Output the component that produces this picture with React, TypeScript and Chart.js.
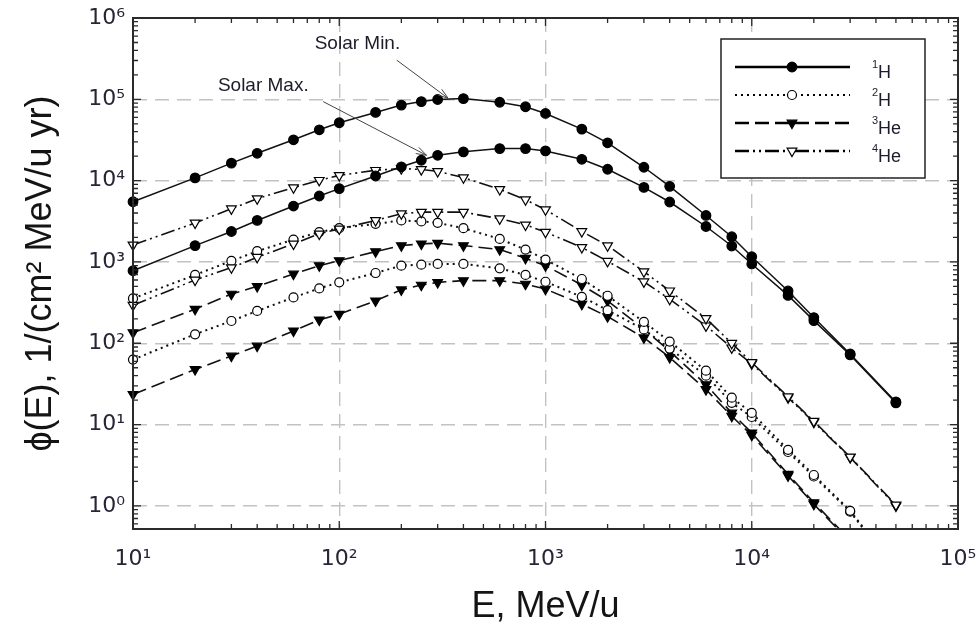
import React, { useEffect, useRef } from 'react';
import { Chart, registerables } from 'chart.js';

Chart.register(...registerables);

// ---- data ----
const energies = [10, 20, 30, 40, 60, 80, 100, 150, 200, 250, 300, 400, 600, 800, 1000, 1500, 2000, 3000, 4000, 6000, 8000, 10000, 15000, 20000, 30000, 50000];

const h1SolarMin = [5500, 10800, 16400, 21700, 31800, 42200, 51500, 69000, 85000, 93700, 99500, 102000, 92000, 81000, 67000, 43000, 29200, 14600, 8500, 3730, 2040, 1160, 440, 207, 74, 19];
const h1SolarMax = [780, 1590, 2370, 3240, 4870, 6470, 7970, 11400, 14800, 17800, 20500, 22600, 24800, 24800, 23200, 18300, 13800, 8250, 5460, 2730, 1570, 945, 388, 190, 72, 18.5];
const h2SolarMin = [356, 692, 1030, 1355, 1885, 2330, 2600, 2940, 3240, 3150, 3030, 2600, 1920, 1420, 1070, 617, 384, 183, 105, 46, 21.4, 13.9, 4.9, 2.4, 0.87, 0.17];
const h2SolarMax = [63, 129, 188, 250, 366, 473, 561, 731, 901, 927, 945, 945, 836, 692, 571, 373, 255, 148, 86, 40, 18.5, 12.4, 4.6, 2.3, 0.85, 0.16];
const he3SolarMin = [135, 263, 403, 501, 711, 901, 1040, 1340, 1590, 1670, 1700, 1590, 1420, 1110, 901, 520, 333, 149, 80, 31, 13.9, 7.9, 2.45, 1.1, 0.38, 0.08];
const he3SolarMax = [23.5, 47.7, 69.7, 92.6, 142, 194, 228, 333, 455, 520, 561, 589, 589, 535, 464, 303, 213, 117, 67, 27, 12.7, 7.4, 2.35, 1.05, 0.36, 0.075];
const he4SolarMin = [1620, 3020, 4510, 6000, 8200, 10100, 11600, 13400, 14100, 13700, 13000, 10900, 7800, 5830, 4390, 2370, 1590, 760, 442, 202, 100, 58, 22, 11, 4.0, 1.03];
const he4SolarMax = [294, 600, 851, 1142, 1667, 2217, 2550, 3240, 3920, 4100, 4100, 4100, 3400, 2860, 2330, 1510, 1020, 571, 349, 164, 88, 56, 21.4, 10.7, 3.95, 1.0];

const legendMass = ['1', '2', '3', '4'];
const legendSymbol = ['H', 'H', 'He', 'He'];

const xRange = [10, 100000];
const yRange = [0.52, 1000000];

const xTitle = 'E, MeV/u';
const yTitle = 'ϕ(E), 1/(cm² MeV/u yr)';

const annotationTexts = ['Solar Min.', 'Solar Max.'];
// anchors in data coordinates: [textX, textY, arrowFromX, arrowFromY, arrowToX, arrowToY]
const annotationAnchors = [
  [76, 4.77e5, 190, 3.03e5, 337, 1.03e5],
  [25.8, 1.47e5, 83.6, 9.37e4, 265, 2.05e4],
];

// ---- styles ----
const isotopeStyles = [
  { dash: [] as number[], pointStyle: 'circle', filled: true, radius: 4.8, lw: 1.5, legendLw: 2.6 },
  { dash: [2, 4], pointStyle: 'circle', filled: false, radius: 4.5, lw: 2, legendLw: 2 },
  { dash: [14, 6], pointStyle: 'triangle', filled: true, radius: 5.6, lw: 1.6, legendLw: 2.4 },
  { dash: [14, 4, 2, 4, 2, 4], pointStyle: 'triangle', filled: false, radius: 5.6, lw: 1.6, legendLw: 2.4 },
];

const seriesList = [
  { label: '¹H solar min', iso: 0, values: h1SolarMin },
  { label: '¹H solar max', iso: 0, values: h1SolarMax },
  { label: '⁴He solar min', iso: 3, values: he4SolarMin },
  { label: '⁴He solar max', iso: 3, values: he4SolarMax },
  { label: '²H solar min', iso: 1, values: h2SolarMin },
  { label: '²H solar max', iso: 1, values: h2SolarMax },
  { label: '³He solar min', iso: 2, values: he3SolarMin },
  { label: '³He solar max', iso: 2, values: he3SolarMax },
];

const SUP: Record<string, string> = { '0': '⁰', '1': '¹', '2': '²', '3': '³', '4': '⁴', '5': '⁵', '6': '⁶', '7': '⁷', '8': '⁸', '9': '⁹', '-': '⁻' };
const isDecade = (v: number) => {
  if (!(v > 0)) return false;
  const l = Math.log10(v);
  return Math.abs(l - Math.round(l)) < 1e-6;
};
const decadeLabel = (v: number) =>
  isDecade(v) ? '10' + String(Math.round(Math.log10(v))).split('').map((c) => SUP[c]).join('') : '';

const TEXT_FONT = '"Liberation Sans", Arial, Helvetica, sans-serif';
const TICK_FONT = '"DejaVu Sans", "Liberation Sans", sans-serif';

function drawMarker(ctx: CanvasRenderingContext2D, x: number, y: number, style: any) {
  ctx.save();
  ctx.setLineDash([]);
  ctx.lineWidth = 1.2;
  ctx.strokeStyle = '#000';
  ctx.fillStyle = style.filled ? '#000' : '#fff';
  ctx.beginPath();
  if (style.pointStyle === 'circle') {
    ctx.arc(x, y, style.radius, 0, Math.PI * 2);
  } else {
    const r = style.radius;
    ctx.moveTo(x, y + r);
    ctx.lineTo(x - r * Math.sin(Math.PI / 3), y - r / 2);
    ctx.lineTo(x + r * Math.sin(Math.PI / 3), y - r / 2);
    ctx.closePath();
  }
  ctx.fill();
  ctx.stroke();
  ctx.restore();
}

const frameTicksPlugin = {
  id: 'frameTicks',
  afterDatasetsDraw(chart: any) {
    const { ctx, chartArea: a, scales } = chart;
    ctx.save();
    ctx.setLineDash([]);
    ctx.strokeStyle = '#2a2a2a';
    ctx.lineWidth = 1.3;
    const tickFor = (scale: any, horizontal: boolean) => {
      const lo = Math.floor(Math.log10(scale.min));
      const hi = Math.ceil(Math.log10(scale.max));
      for (let e = lo; e <= hi; e++) {
        for (let k = 1; k <= 9; k++) {
          const v = k * Math.pow(10, e);
          if (v < scale.min * 0.9999 || v > scale.max * 1.0001) continue;
          const p = scale.getPixelForValue(v);
          const len = k === 1 ? 8 : 5;
          ctx.beginPath();
          if (horizontal) {
            ctx.moveTo(p, a.bottom); ctx.lineTo(p, a.bottom - len);
            ctx.moveTo(p, a.top); ctx.lineTo(p, a.top + len);
          } else {
            ctx.moveTo(a.left, p); ctx.lineTo(a.left + len, p);
            ctx.moveTo(a.right, p); ctx.lineTo(a.right - len, p);
          }
          ctx.stroke();
        }
      }
    };
    tickFor(scales.x, true);
    tickFor(scales.y, false);
    ctx.lineWidth = 2;
    ctx.strokeRect(a.left, a.top, a.right - a.left, a.bottom - a.top);
    ctx.restore();
  },
};

const legendPlugin = {
  id: 'isotopeLegend',
  afterDraw(chart: any) {
    const { ctx, chartArea: a } = chart;
    const left = a.right - 237;
    const top = a.top + 21;
    const w = 204;
    const h = 139;
    ctx.save();
    ctx.fillStyle = '#fff';
    ctx.fillRect(left, top, w, h);
    ctx.strokeStyle = '#222';
    ctx.lineWidth = 1.5;
    ctx.setLineDash([]);
    ctx.strokeRect(left, top, w, h);
    legendMass.forEach((mass, i) => {
      const st = isotopeStyles[i];
      const y = top + 28 + i * 28;
      ctx.save();
      ctx.strokeStyle = '#000';
      ctx.lineWidth = st.legendLw;
      ctx.setLineDash(st.dash);
      ctx.beginPath();
      ctx.moveTo(left + 14, y);
      ctx.lineTo(left + 129, y);
      ctx.stroke();
      ctx.restore();
      drawMarker(ctx, left + 71, y, st);
      ctx.fillStyle = '#1c1c2a';
      ctx.textBaseline = 'alphabetic';
      ctx.textAlign = 'left';
      ctx.font = `11px ${TEXT_FONT}`;
      ctx.fillText(mass, left + 151, y + 1);
      const mw = ctx.measureText(mass).width;
      ctx.font = `18px ${TEXT_FONT}`;
      ctx.fillText(legendSymbol[i], left + 151 + mw, y + 11);
    });
    ctx.restore();
  },
};

const annotationPlugin = {
  id: 'solarAnnotations',
  afterDatasetsDraw(chart: any) {
    const { ctx, scales } = chart;
    const xs = scales.x;
    const ys = scales.y;
    ctx.save();
    annotationTexts.forEach((text, i) => {
      const [tx, ty, fx, fy, ax, ay] = annotationAnchors[i];
      ctx.fillStyle = '#1c1c2a';
      ctx.font = `19px ${TEXT_FONT}`;
      ctx.textAlign = 'left';
      ctx.textBaseline = 'middle';
      ctx.fillText(text, xs.getPixelForValue(tx), ys.getPixelForValue(ty));
      const x1 = xs.getPixelForValue(fx);
      const y1 = ys.getPixelForValue(fy);
      const x2 = xs.getPixelForValue(ax);
      const y2 = ys.getPixelForValue(ay);
      ctx.strokeStyle = '#444';
      ctx.lineWidth = 1;
      ctx.setLineDash([]);
      ctx.beginPath();
      ctx.moveTo(x1, y1);
      ctx.lineTo(x2, y2);
      const ang = Math.atan2(y2 - y1, x2 - x1);
      const hl = 11;
      const spread = 0.32;
      ctx.moveTo(x2, y2);
      ctx.lineTo(x2 - hl * Math.cos(ang - spread), y2 - hl * Math.sin(ang - spread));
      ctx.moveTo(x2, y2);
      ctx.lineTo(x2 - hl * Math.cos(ang + spread), y2 - hl * Math.sin(ang + spread));
      ctx.stroke();
    });
    ctx.restore();
  },
};

export default function App() {
  const canvasRef = useRef<HTMLCanvasElement | null>(null);

  useEffect(() => {
    if (!canvasRef.current) return;
    const datasets = seriesList.map((s) => {
      const st = isotopeStyles[s.iso];
      return {
        label: s.label,
        data: energies.map((e, i) => ({ x: e, y: s.values[i] })),
        borderColor: '#111',
        borderWidth: st.lw,
        borderDash: st.dash,
        tension: 0,
        fill: false,
        pointStyle: st.pointStyle,
        rotation: st.pointStyle === 'triangle' ? 180 : 0,
        pointRadius: st.radius,
        pointBorderWidth: 1.2,
        pointBorderColor: '#000',
        pointBackgroundColor: st.filled ? '#000' : '#fff',
        clip: { left: 8, top: 8, right: 8, bottom: 0 },
      };
    });

    const chart = new Chart(canvasRef.current, {
      type: 'line',
      data: { datasets: datasets as any },
      options: {
        animation: false,
        responsive: false,
        devicePixelRatio: 1,
        layout: { padding: { top: 18, right: 21, bottom: 0, left: 0 } },
        plugins: {
          legend: { display: false },
          tooltip: { enabled: false },
        },
        events: [],
        scales: {
          x: {
            type: 'logarithmic',
            min: xRange[0],
            max: xRange[1],
            afterFit: (scale: any) => {
              scale.height = 99;
              scale.paddingLeft = 0;
              scale.paddingRight = 0;
            },
            grid: {
              drawTicks: false,
              lineWidth: 1.4,
              color: (c: any) => (c.tick && isDecade(c.tick.value) ? '#c2c2c2' : 'rgba(0,0,0,0)'),
            },
            border: { display: false, dash: [14, 8] },
            ticks: {
              autoSkip: false,
              maxRotation: 0,
              padding: 17,
              color: '#262636',
              font: { family: TICK_FONT, size: 22 },
              callback: (v: any) => decadeLabel(Number(v)),
            },
            title: {
              display: true,
              text: xTitle,
              color: '#141414',
              font: { family: TEXT_FONT, size: 36, lineHeight: 1 },
              padding: { top: 0, bottom: 3 },
            },
          },
          y: {
            type: 'logarithmic',
            min: yRange[0],
            max: yRange[1],
            afterFit: (scale: any) => {
              scale.width = 133;
              scale.paddingTop = 0;
              scale.paddingBottom = 0;
            },
            grid: {
              drawTicks: false,
              lineWidth: 1.4,
              color: (c: any) => (c.tick && isDecade(c.tick.value) ? '#c2c2c2' : 'rgba(0,0,0,0)'),
            },
            border: { display: false, dash: [14, 8] },
            ticks: {
              autoSkip: false,
              padding: 8,
              color: '#262636',
              font: { family: TICK_FONT, size: 22 },
              callback: (v: any) => decadeLabel(Number(v)),
            },
            title: {
              display: true,
              text: yTitle,
              color: '#141414',
              font: { family: TEXT_FONT, size: 36, lineHeight: 1 },
              padding: { top: 23, bottom: 0 },
            },
          },
        },
      },
      plugins: [frameTicksPlugin, annotationPlugin, legendPlugin],
    } as any);

    return () => chart.destroy();
  }, []);

  return (
    <div style={{ position: 'fixed', left: 0, top: 0, width: 979, height: 628, background: '#fff' }}>
      <canvas ref={canvasRef} width={979} height={628} style={{ display: 'block' }} />
    </div>
  );
}
